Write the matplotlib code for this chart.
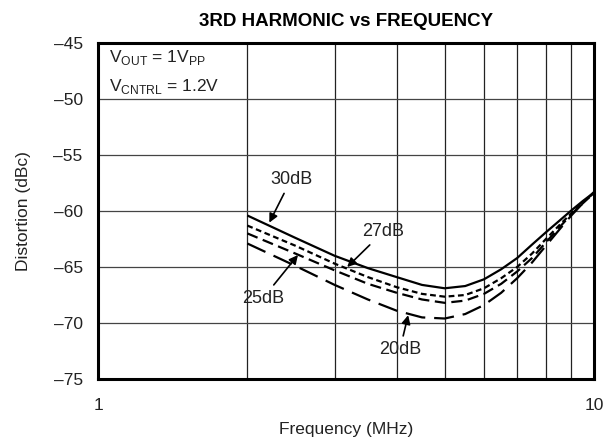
import numpy as np
import matplotlib
matplotlib.use("Agg")
import matplotlib.pyplot as plt
from matplotlib.ticker import FixedLocator, FuncFormatter

plt.rcParams["font.family"] = ["Liberation Sans", "DejaVu Sans"]

# 3rd harmonic distortion (dBc) vs frequency (MHz) for each gain setting
freq = [2, 2.5, 3, 3.5, 4, 4.5, 5, 5.5, 6, 6.5, 7, 7.5, 8, 8.5, 9, 9.5, 10]
hd3_30db = [-60.4, -62.4, -64.0, -65.1, -65.9, -66.6, -66.9, -66.7, -66.1,
            -65.2, -64.2, -63.0, -61.9, -60.9, -59.95, -59.1, -58.35]
hd3_27db = [-61.3, -63.1, -64.7, -65.9, -66.8, -67.4, -67.65, -67.5, -66.9,
            -66.0, -65.0, -63.8, -62.5, -61.3, -60.2, -59.2, -58.4]
hd3_25db = [-62.0, -63.8, -65.3, -66.5, -67.3, -67.9, -68.2, -68.0, -67.4,
            -66.5, -65.4, -64.2, -62.8, -61.5, -60.3, -59.3, -58.4]
hd3_20db = [-62.9, -64.9, -66.6, -67.9, -68.9, -69.5, -69.6, -69.2, -68.4,
            -67.3, -66.0, -64.6, -63.1, -61.7, -60.4, -59.3, -58.3]

y_ticks = [-75, -70, -65, -60, -55, -50, -45]
x_grid = [2, 3, 4, 5, 6, 7, 8, 9]

fig = plt.figure(figsize=(6.15, 4.45), dpi=100)
ax = fig.add_axes([98 / 615, 1 - 379 / 445, 496 / 615, 336 / 445])

ax.set_xscale("log")
ax.set_xlim(1, 10)
ax.set_ylim(-75, -45)

ax.plot(freq, hd3_30db, color="black", lw=1.6, solid_capstyle="butt")
ax.plot(freq, hd3_27db, color="black", lw=1.6, dashes=(2.6, 1.6))
ax.plot(freq, hd3_25db, color="black", lw=1.6, dashes=(5, 2.5))
ax.plot(freq, hd3_20db, color="black", lw=1.6, dashes=(9, 4))

# grid: verticals only at 2..9 MHz, horizontals every 5 dB
ax.xaxis.set_major_locator(FixedLocator([1, 10]))
ax.xaxis.set_minor_locator(FixedLocator(x_grid))
ax.xaxis.set_major_formatter(FuncFormatter(lambda v, p: f"{v:g}"))
ax.xaxis.set_minor_formatter(FuncFormatter(lambda v, p: ""))
ax.yaxis.set_major_locator(FixedLocator(y_ticks))
ax.yaxis.set_major_formatter(FuncFormatter(lambda v, p: f"{v:g}".replace("-", "\u2013")))
ax.grid(True, which="minor", axis="x", color="#222222", lw=0.9)
ax.grid(True, which="major", axis="y", color="#444444", lw=0.9)
ax.tick_params(which="both", length=0, labelsize=12.5, colors="#222222")
ax.tick_params(axis="x", pad=14)
ax.tick_params(axis="y", pad=11)
for s in ax.spines.values():
    s.set_linewidth(2.2)
    s.set_color("black")
    s.set_zorder(5)

ax.set_title("3RD HARMONIC vs FREQUENCY", fontsize=13.5, fontweight="bold", pad=12)
ax.set_xlabel("Frequency (MHz)", fontsize=12.5, labelpad=6, color="#222222")
ax.set_ylabel("Distortion (dBc)", fontsize=12.5, labelpad=16, color="#222222")

ax.text(0.022, 0.986, "V$_{\\mathregular{OUT}}$ = 1V$_{\\mathregular{PP}}$",
        transform=ax.transAxes, fontsize=12.5, va="top", ha="left", color="#222222")
ax.text(0.022, 0.90, "V$_{\\mathregular{CNTRL}}$ = 1.2V",
        transform=ax.transAxes, fontsize=12.5, va="top", ha="left", color="#222222")

arrow = dict(arrowstyle="-|>", color="black", lw=1.2, mutation_scale=13, shrinkA=2, shrinkB=0)
ax.annotate("30dB", xy=(2.215, -61.04), xytext=(2.45, -57.2), fontsize=13,
            ha="center", va="center", arrowprops=arrow, color="#222222")
ax.annotate("27dB", xy=(3.18, -65.0), xytext=(3.76, -61.85), fontsize=13,
            ha="center", va="center", arrowprops=arrow, color="#222222")
ax.annotate("25dB", xy=(2.53, -63.93), xytext=(2.15, -67.8), fontsize=13,
            ha="center", va="center", arrowprops=arrow, color="#222222")
ax.annotate("20dB", xy=(4.22, -69.3), xytext=(4.06, -72.4), fontsize=13,
            ha="center", va="center", arrowprops=arrow, color="#222222")

fig.savefig("out.png", dpi=100)
